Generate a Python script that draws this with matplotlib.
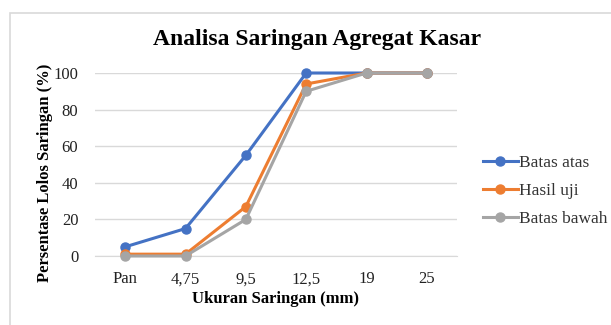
import numpy as np
import matplotlib.pyplot as plt
from matplotlib.patches import Rectangle

ukuran = ['Pan', '4,75', '9,5', '12,5', '19', '25']
batas_atas = [5, 15, 55, 100, 100, 100]
hasil_uji = [1, 1, 27, 94, 100, 100]
batas_bawah = [0, 0, 20, 90, 100, 100]
y_ticks = [0, 20, 40, 60, 80, 100]

plt.rcParams['font.family'] = ['Liberation Serif', 'DejaVu Serif']

fig = plt.figure(figsize=(6.11, 3.25), dpi=100)
fig.patches.append(Rectangle((10/611, -0.1), 1.0, 1 - 13/325 + 0.1, transform=fig.transFigure,
                             fill=False, edgecolor='#D9D9D9', linewidth=1.2))

ax = fig.add_axes([95/611, 1 - 256/325, 362/611, 183/325])
x = np.arange(len(ukuran))
ax.plot(x, batas_atas, color='#4472C4', lw=2.2, marker='o', ms=6.5, label='Batas atas', zorder=3)
ax.plot(x, hasil_uji, color='#ED7D31', lw=2.2, marker='o', ms=6.5, label='Hasil uji', zorder=4)
ax.plot(x, batas_bawah, color='#A5A5A5', lw=2.2, marker='o', ms=6.5, label='Batas bawah', zorder=5)

ax.set_xlim(-0.5, len(ukuran) - 0.5)
ax.set_ylim(0, 100)
ax.set_xticks(x)
ax.set_xticklabels(ukuran)
ax.set_yticks(y_ticks)
ax.tick_params(length=0, labelsize=12, colors='#222222', pad=12)
ax.tick_params(axis='x', pad=11)
ax.grid(axis='y', color='#D9D9D9', lw=1)
ax.set_axisbelow(True)
for s in ['top', 'right', 'left']:
    ax.spines[s].set_visible(False)
ax.spines['bottom'].set_color('#D9D9D9')
ax.spines['bottom'].set_zorder(1)
for ln in ax.lines:
    ln.set_clip_on(False)

ax.set_xlabel('Ukuran Saringan (mm)', fontsize=12, fontweight='bold', labelpad=3)
ax.set_ylabel('Persentase Lolos Saringan (%)', fontsize=12, fontweight='bold', va='center')
ax.yaxis.set_label_coords(-0.138, 0.456)
fig.text(317/611, 1 - 40/325, 'Analisa Saringan Agregat Kasar', ha='center', va='center',
         fontsize=17, fontweight='bold')

ax.legend(loc='center left', bbox_to_anchor=(483/611, 1 - 191/325), bbox_transform=fig.transFigure,
          borderaxespad=0, borderpad=0, frameon=False, fontsize=12.5,
          handlelength=2.0, handletextpad=0.05, labelspacing=0.7, labelcolor='#333333')

fig.savefig('out.png', dpi=100)
